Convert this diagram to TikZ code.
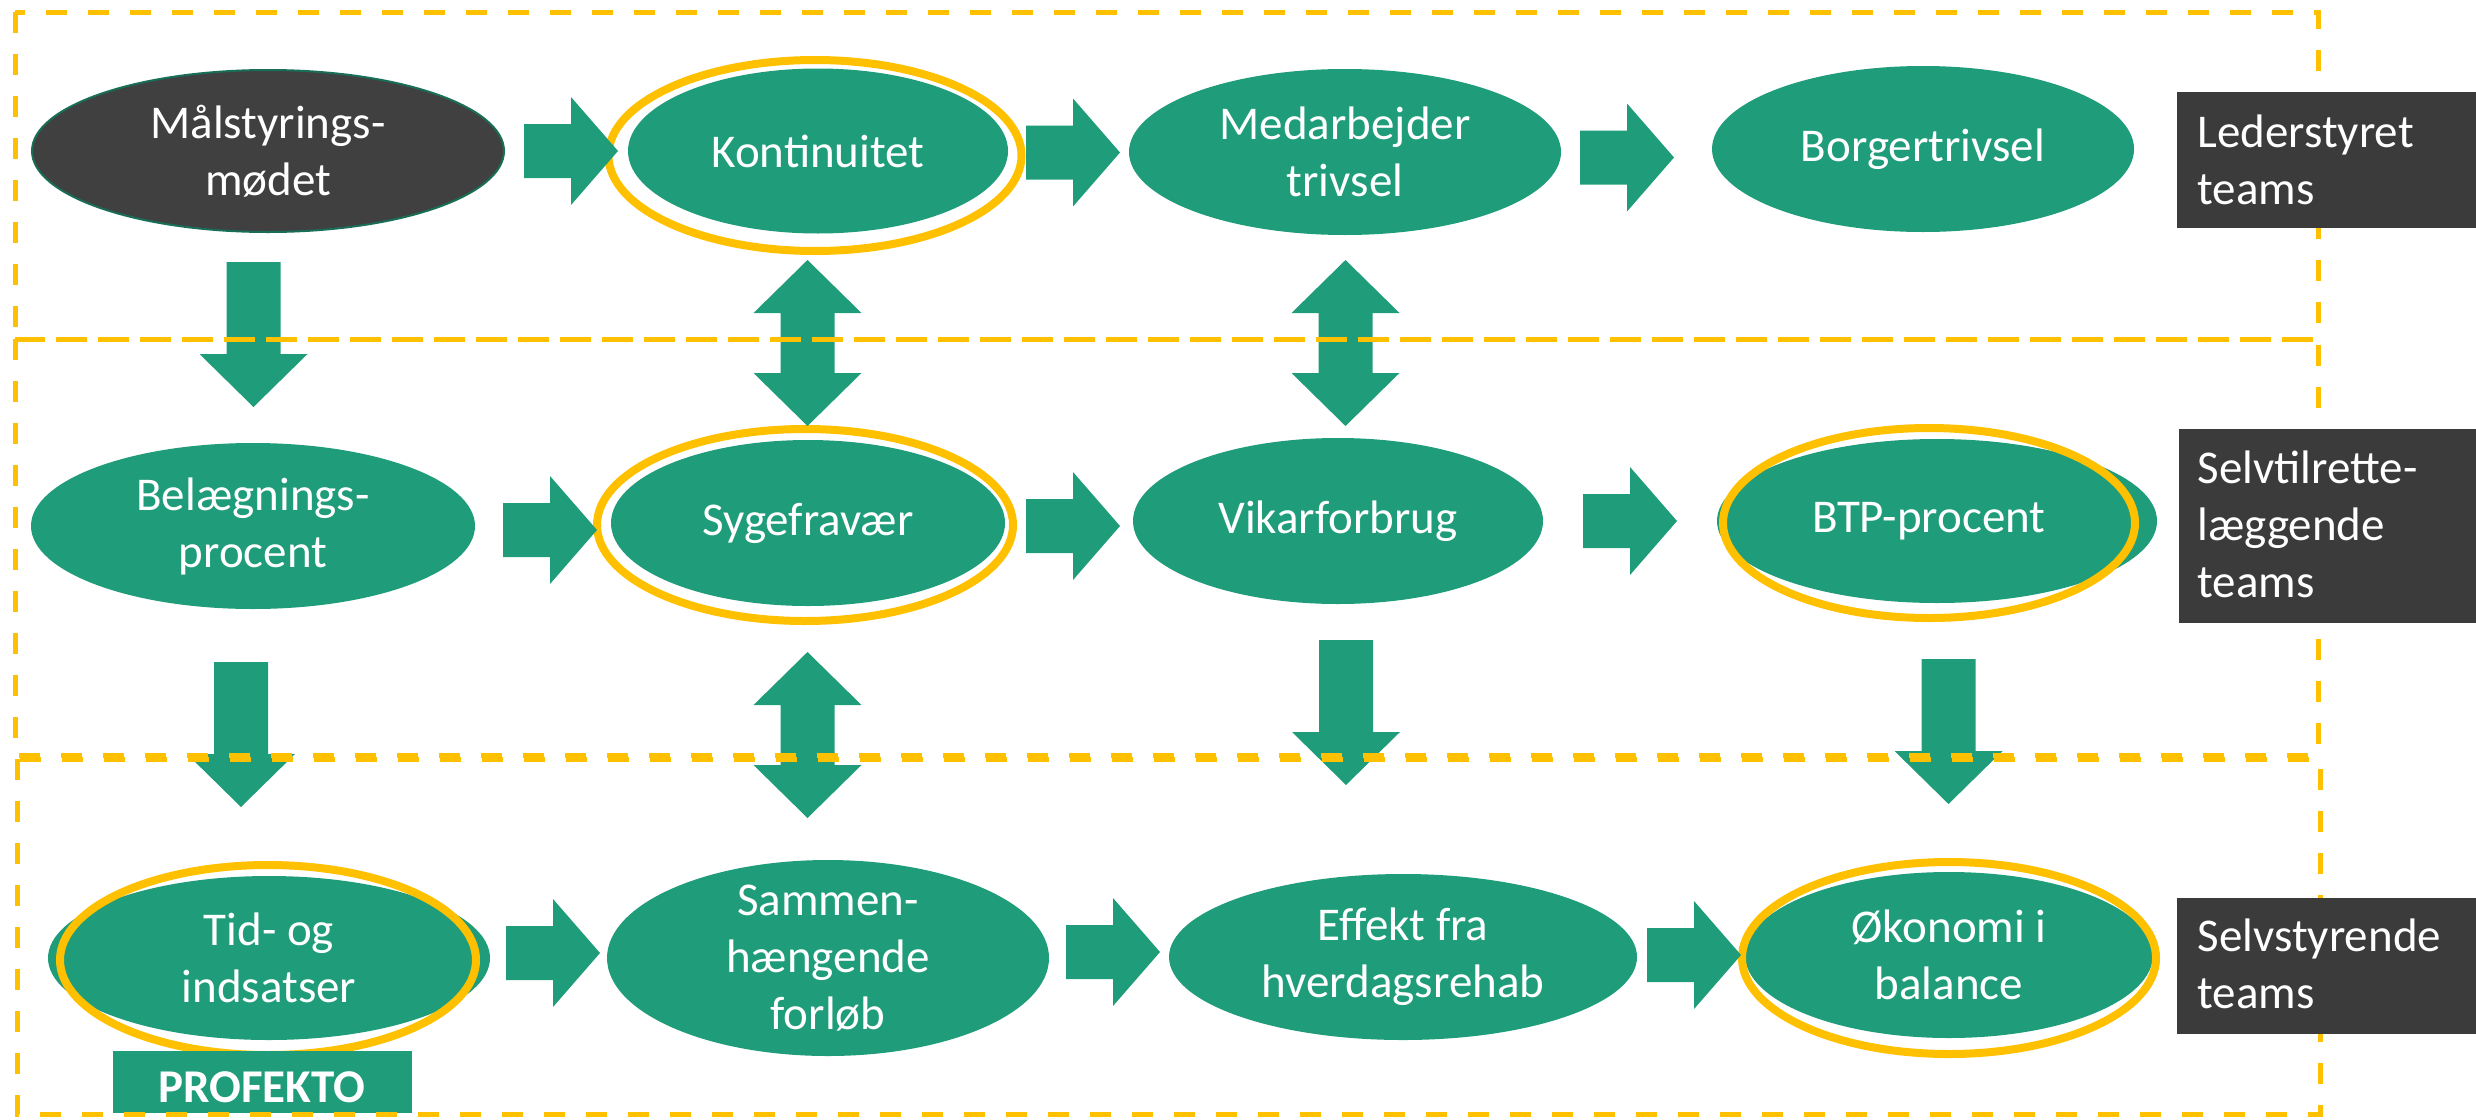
\documentclass[tikz,border=0pt]{standalone}
\usepackage{fontspec}
\setmainfont{Carlito}
\usetikzlibrary{shapes.geometric}
\definecolor{leaf}{RGB}{31,156,122}
\definecolor{amber}{RGB}{255,192,0}
\definecolor{slate}{RGB}{59,59,59}
\definecolor{charcoal}{RGB}{64,64,64}
\definecolor{rim}{RGB}{24,110,86}

\begin{document}
\begin{tikzpicture}[x=0.5pt,y=-0.5pt,
  oval/.style={ellipse, fill=leaf, inner sep=0pt, outer sep=0pt},
  ring/.style={ellipse, draw=amber, line width=4pt, inner sep=0pt},
  txt/.style={text=white, align=center, font=\fontsize{23.5}{28.5}\selectfont, inner sep=0pt},
  tag/.style={rectangle, fill=slate, inner sep=0pt, anchor=north west},
  tagtxt/.style={text=white, align=left, anchor=west, font=\fontsize{23.5}{28.5}\selectfont, inner sep=0pt},
  zone/.style={draw=amber, line width=2.5pt, dash pattern=on 10.5pt off 10.5pt},
  rarr/.pic={\fill[leaf] (0,-27) -- (47,-27) -- (47,-54) -- (94,0) -- (47,54) -- (47,27) -- (0,27) -- cycle;},
  darr/.pic={\fill[leaf] (-27,0) -- (27,0) -- (27,92) -- (54,92) -- (0,145) -- (-54,92) -- (-27,92) -- cycle;},
  bidarr/.pic={\fill[leaf] (0,0) -- (54,53) -- (27,53) -- (27,113) -- (54,113) -- (0,166) -- (-54,113) -- (-27,113) -- (-27,53) -- (-54,53) -- cycle;},
]
\useasboundingbox (0,0) rectangle (2476,1119);

% top row
\node[oval, fill=charcoal, draw=rim, line width=1pt, minimum width=236pt, minimum height=81pt] (mal) at (268,151) {};
\node[txt] (mal-t) at (mal) {Målstyrings-\\mødet};
\node[oval, minimum width=190pt, minimum height=82.5pt] (kont) at (818,151) {};
\node[txt] (kont-t) at (kont) {Kontinuitet};
\node[ring, minimum width=206.5pt, minimum height=95.5pt] (kont-r) at (815,155.5) {};
\node[oval, minimum width=216pt, minimum height=83pt] (med) at (1345,152) {};
\node[txt] (med-t) at (med) {Medarbejder\\trivsel};
\node[oval, minimum width=211pt, minimum height=83pt] (borg) at (1923,149) {};
\node[txt] (borg-t) at (borg) {Borgertrivsel};

% middle row
\node[oval, minimum width=222pt, minimum height=83pt] (bel) at (253,526) {};
\node[txt] (bel-t) at (bel) {Belægnings-\\procent};
\node[oval, minimum width=197pt, minimum height=83pt] (syg) at (808,523) {};
\node[txt] (syg-t) at (syg) {Sygefravær};
\node[ring, minimum width=208pt, minimum height=96pt] (syg-r) at (805,525) {};
\node[oval, minimum width=205pt, minimum height=83pt] (vik) at (1338,521) {};
\node[txt] (vik-t) at (vik) {Vikarforbrug};
\node[oval, minimum width=220pt, minimum height=82pt] (btp) at (1937,521) {};
\node[txt] (btp-t) at (1929,521) {BTP-procent};
\node[ring, minimum width=206pt, minimum height=95pt] (btp-r) at (1929,523) {};

% bottom row
\node[oval, minimum width=221pt, minimum height=82pt] (tid) at (269,958) {};
\node[txt] (tid-t) at (tid) {Tid- og\\indsatser};
\node[ring, minimum width=208pt, minimum height=95pt] (tid-r) at (268,960) {};
\node[oval, minimum width=221pt, minimum height=98pt] (sam) at (828,958) {};
\node[txt] (sam-t) at (sam) {Sammen-\\hængende\\forløb};
\node[oval, minimum width=234pt, minimum height=83pt] (eff) at (1403,957) {};
\node[txt] (eff-t) at (eff) {Effekt fra\\hverdagsrehab};
\node[oval, minimum width=204pt, minimum height=83pt] (oko) at (1949,955) {};
\node[txt] (oko-t) at (oko) {Økonomi i\\balance};
\node[ring, minimum width=207pt, minimum height=96pt] (oko-r) at (1949,958) {};

\node[tag, fill=leaf, minimum width=149.5pt, minimum height=31pt] (prof) at (113,1051) {};
\node[txt, font=\fontsize{23.5}{28.5}\selectfont\bfseries] (prof-t) at (262,1087) {PROFEKTO};

% horizontal block arrows
\pic at (524,151) {rarr};
\pic at (1026,152.5) {rarr};
\pic at (1580,157.5) {rarr};
\pic at (503,530) {rarr};
\pic at (1026,526) {rarr};
\pic at (1583,521) {rarr};
\pic at (506,953) {rarr};
\pic at (1066,952) {rarr};
\pic at (1647,955) {rarr};

% vertical block arrows
\pic at (253.5,262) {darr};
\pic at (241,662) {darr};
\pic at (1346,640) {darr};
\pic at (1948.5,659) {darr};
\pic at (807.5,260) {bidarr};
\pic at (807.5,652) {bidarr};
\pic at (1345.5,260) {bidarr};

% team zones
\draw[zone] (15,12) rectangle (2318,339);
\draw[zone] (15,339) rectangle (2318,755);
\draw[zone] (17,759) rectangle (2320,1114);

% team labels, over the zone borders
\node[tag, minimum width=149.5pt, minimum height=68pt] (lead) at (2177,92) {};
\node[tagtxt] (lead-t) at (2197,160) {Lederstyret\\teams};
\node[tag, minimum width=148.5pt, minimum height=97pt] (selvt) at (2179,429) {};
\node[tagtxt] (selvt-t) at (2197,524) {Selvtilrette-\\læggende\\teams};
\node[tag, minimum width=149.5pt, minimum height=68pt] (selvs) at (2177,898) {};
\node[tagtxt] (selvs-t) at (2197,964) {Selvstyrende\\teams};
\end{tikzpicture}
\end{document}
